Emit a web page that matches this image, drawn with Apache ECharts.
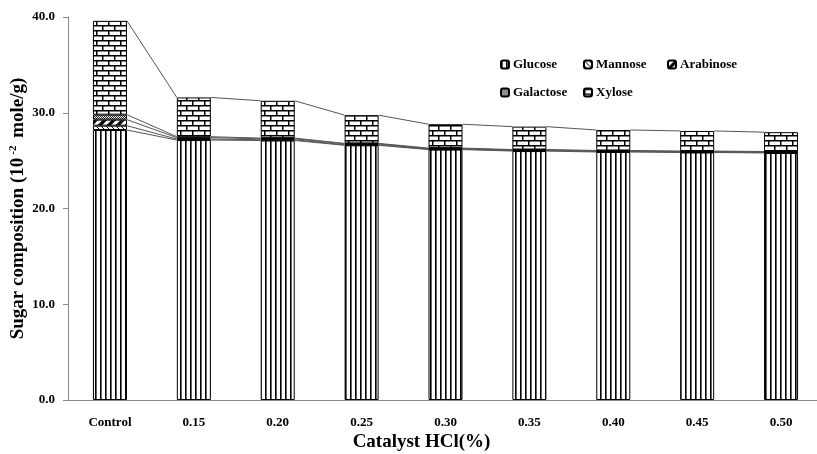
<!DOCTYPE html>
<html><head><meta charset="utf-8">
<script src="https://cdn.jsdelivr.net/npm/echarts@6/dist/echarts.min.js"></script>
<style>html,body{margin:0;padding:0;background:#fff;}#c{width:817px;height:454px;}</style>
</head><body><div id="c"></div>
<script>
var categories = ['Control','0.15','0.20','0.25','0.30','0.35','0.40','0.45','0.50'];
var seriesNames = ['Glucose','Mannose','Arabinose','Galactose','Xylose'];
var glucose   = [28.2, 27.15, 27.1, 26.6, 26.15, 26.0, 25.9, 25.85, 25.8];
var mannose   = [0.45, 0.10, 0.08, 0.06, 0.05, 0.05, 0.05, 0.05, 0.05];
var arabinose = [0.63, 0.15, 0.10, 0.08, 0.06, 0.06, 0.06, 0.05, 0.05];
var galactose = [0.52, 0.10, 0.07, 0.06, 0.05, 0.05, 0.05, 0.05, 0.05];
var xylose    = [9.8, 4.1, 3.9, 2.95, 2.49, 2.39, 2.14, 2.1, 2.02];
var yTicks = [0, 10, 20, 30, 40];

var FONT = '"Liberation Serif", "Times New Roman", serif';

function mk(w, h, draw) {
  var c = document.createElement('canvas'); c.width = w; c.height = h;
  var g = c.getContext('2d'); g.fillStyle = '#fff'; g.fillRect(0, 0, w, h);
  g.strokeStyle = '#000'; g.fillStyle = '#000'; draw(g, w, h); return c;
}
var patVert = mk(5, 4, function (g) { g.fillRect(0, 0, 1.6, 4); });
var patMann = mk(5, 5, function (g) {
  g.lineWidth = 1; g.beginPath(); g.moveTo(-1, -1); g.lineTo(6, 6);
  g.moveTo(-1, 4); g.lineTo(1, 6); g.moveTo(4, -1); g.lineTo(6, 1); g.stroke();
});
var patArab = mk(9, 9, function (g) {
  g.lineWidth = 3.2; g.beginPath(); g.moveTo(-1, 10); g.lineTo(10, -1);
  g.moveTo(-1, 1); g.lineTo(1, -1); g.moveTo(8, 10); g.lineTo(10, 8); g.stroke();
});
var patGal = mk(2, 2, function (g) { g.fillStyle = '#222'; g.fillRect(0, 0, 1, 1); g.fillRect(1, 1, 1, 1); });
var patXyl = mk(12, 10, function (g) {
  g.fillRect(0, 0, 12, 1.5); g.fillRect(0, 5, 12, 1.5);
  g.fillRect(0, 0, 1.5, 5); g.fillRect(6, 5, 1.5, 5);
});
var pats = [patVert, patMann, patArab, patGal, patXyl];
var values = [glucose, mannose, arabinose, galactose, xylose];

var series = [];
seriesNames.forEach(function (n, k) {
  series.push({
    name: n, type: 'bar', stack: 'sugar', barWidth: 34, data: values[k],
    itemStyle: { color: { image: pats[k], repeat: 'repeat' }, borderColor: '#000', borderWidth: 1 },
    emphasis: { disabled: true }, z: 3
  });
});
// Series lines connecting stack layer tops between adjacent bars
var cum = categories.map(function () { return 0; });
seriesNames.forEach(function (n, k) {
  cum = cum.map(function (c, i) { return c + values[k][i]; });
  var d = [];
  for (var i = 0; i < categories.length - 1; i++) d.push([i, cum[i], cum[i + 1]]);
  series.push({
    type: 'custom', z: 2, silent: true, data: d,
    encode: { x: 0, y: [1, 2] },
    renderItem: function (params, api) {
      var i = api.value(0);
      var p1 = api.coord([i, api.value(1)]);
      var p2 = api.coord([i + 1, api.value(2)]);
      return { type: 'line', shape: { x1: p1[0] + 17, y1: p1[1], x2: p2[0] - 17, y2: p2[1] },
        style: { stroke: '#555', lineWidth: 1 } };
    }
  });
});

var legendPos = [[500, 58], [583, 58], [667, 58], [500, 86], [583, 86]];
var legends = seriesNames.map(function (n, k) {
  return { data: [n], left: legendPos[k][0], top: legendPos[k][1], orient: 'horizontal', padding: 0,
    itemWidth: 8, itemHeight: 8, itemGap: 4, selectedMode: false,
    textStyle: { fontFamily: FONT, fontWeight: 'bold', fontSize: 13, color: '#000', padding: [0, 0, 0, -1] } };
});

var chart = echarts.init(document.getElementById('c'), null, { renderer: 'canvas' });
chart.setOption({
  animation: false,
  backgroundColor: '#fff',
  legend: legends,
  grid: { left: 68, right: -6, top: 17, bottom: 54, containLabel: false, outerBoundsMode: 'none' },
  xAxis: {
    type: 'category', data: categories, boundaryGap: true,
    name: 'Catalyst HCl(%)', nameLocation: 'middle', nameGap: 33, nameMoveOverlap: false,
    nameTextStyle: { fontFamily: FONT, fontWeight: 'bold', fontSize: 19, color: '#000', padding: [0, 48, 0, 0] },
    axisLine: { lineStyle: { color: '#888', width: 1 } },
    axisTick: { inside: true, length: 4, lineStyle: { color: '#888' } },
    axisLabel: { fontFamily: FONT, fontWeight: 'bold', fontSize: 13, color: '#000', margin: 16 }
  },
  yAxis: {
    type: 'value', min: yTicks[0], max: yTicks[yTicks.length - 1], interval: 10,
    name: 'Sugar composition (10{sup|-2} mole/g)', nameLocation: 'middle', nameGap: 39, nameRotate: 90,
    nameMoveOverlap: false,
    nameTextStyle: { fontFamily: FONT, fontWeight: 'bold', fontSize: 19, color: '#000',
      rich: { sup: { fontFamily: FONT, fontWeight: 'bold', fontSize: 11, color: '#000', padding: [0, 3, 10, 3] } } },
    splitLine: { show: false },
    axisLine: { show: true, lineStyle: { color: '#888', width: 1 } },
    axisTick: { show: true, length: 5, lineStyle: { color: '#888' } },
    axisLabel: { fontFamily: FONT, fontWeight: 'bold', fontSize: 13, color: '#000', margin: 13,
      formatter: function (v) { return v.toFixed(1); } }
  },
  series: series
});
</script></body></html>
